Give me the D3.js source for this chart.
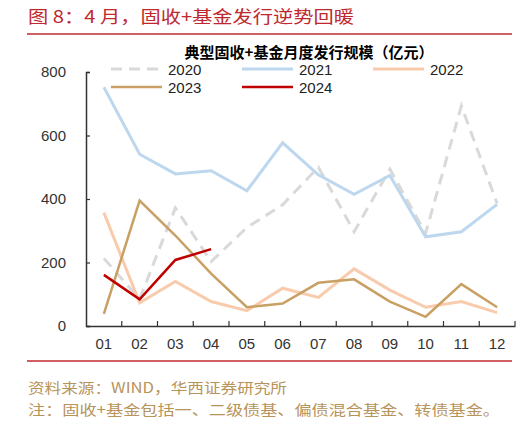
<!DOCTYPE html>
<html><head><meta charset="utf-8">
<script src="https://cdn.jsdelivr.net/npm/d3@7"></script>
<style>html,body{margin:0;padding:0;background:#fff;}svg{display:block;}</style>
</head><body>
<svg id="c" width="532" height="431"></svg>
<script>
const months = ["01","02","03","04","05","06","07","08","09","10","11","12"];
const yTicks = [0,200,400,600,800];
const s2020 = [213,85,372,203,310,382,500,297,494,292,693,386];
const s2021 = [752,541,479,489,426,577,476,415,474,281,297,383];
const s2022 = [357,73,140,77,48,119,90,180,113,59,77,42];
const s2023 = [38,395,285,165,59,71,136,147,77,29,132,59];
const s2024 = [161,84,208,242];
const seriesNames = ["2020","2021","2022","2023","2024"];

const series = [
  {name:"2020", values:s2020, color:"#D9D9D9", width:3, dash:"11,7"},
  {name:"2021", values:s2021, color:"#BDD7EE", width:3, dash:null},
  {name:"2022", values:s2022, color:"#F8CBAD", width:3, dash:null},
  {name:"2023", values:s2023, color:"#C9A063", width:2.5, dash:null},
  {name:"2024", values:s2024, color:"#C00000", width:2.5, dash:null}
];

const svg = d3.select("#c");
const cjk = "'Noto Sans CJK SC','Noto Sans',sans-serif";
const latin = "Arial,'Liberation Sans',sans-serif";

// header
svg.append("text").attr("x",28).attr("y",23).attr("fill","#C0282E")
  .attr("font-family",cjk).attr("font-size",17)
  .attr("textLength",326).attr("lengthAdjust","spacingAndGlyphs")
  .text("图 8：4 月，固收+基金发行逆势回暖");
svg.append("line").attr("x1",27).attr("x2",512).attr("y1",34).attr("y2",34)
  .attr("stroke","#C0282E").attr("stroke-width",1.5);

// chart title
svg.append("text").attr("x",309).attr("y",58).attr("text-anchor","middle")
  .attr("font-family",cjk).attr("font-weight","bold").attr("font-size",15).attr("fill","#000")
  .text("典型固收+基金月度发行规模（亿元）");

const x = d3.scaleBand().domain(months).range([86,515]);
const y = d3.scaleLinear().domain([0,800]).range([326,72]);

// axes
const gx = svg.append("g").attr("transform","translate(0,326)")
  .call(d3.axisBottom(x).tickSize(0).tickPadding(12));
gx.select(".domain").attr("stroke","#333").attr("stroke-width",1.5);
gx.selectAll("text").attr("font-family",latin).attr("font-size",15).attr("fill","#333");
// band boundary ticks pointing up
gx.selectAll(".bt").data(months.slice(1).concat(["end"])).enter().append("line")
  .attr("x1",(d,i)=> x(months[i]) + x.bandwidth())
  .attr("x2",(d,i)=> x(months[i]) + x.bandwidth())
  .attr("y1",0).attr("y2",-5).attr("stroke","#333").attr("stroke-width",1.2);

const gy = svg.append("g").attr("transform","translate(86,0)")
  .call(d3.axisLeft(y).tickValues(yTicks).tickSize(-4).tickPadding(20));
gy.select(".domain").attr("stroke","#333").attr("stroke-width",1.5);
gy.selectAll(".tick line").attr("stroke","#333").attr("stroke-width",1.2);
gy.selectAll("text").attr("font-family",latin).attr("font-size",15).attr("fill","#333");

// lines
const line = d3.line().x((d,i)=> x(months[i]) + x.bandwidth()/2).y(d=> y(d));
series.forEach(s=>{
  svg.append("path").datum(s.values).attr("d",line).attr("fill","none")
    .attr("stroke",s.color).attr("stroke-width",s.width)
    .attr("stroke-dasharray",s.dash).attr("stroke-linejoin","miter");
});

// legend
const legPos = [[111,69],[242,69],[373,69],[111,87],[242,87]];
series.forEach((s,i)=>{
  const [lx,ly] = legPos[i];
  svg.append("line").attr("x1",lx).attr("x2",lx+51).attr("y1",ly).attr("y2",ly)
    .attr("stroke",s.color).attr("stroke-width",s.width).attr("stroke-dasharray",s.dash);
  svg.append("text").attr("x",lx+57).attr("y",ly+5.5).attr("font-family",latin)
    .attr("font-size",15).attr("fill","#222").text(seriesNames[i]);
});

// footer
svg.append("line").attr("x1",27).attr("x2",512).attr("y1",361).attr("y2",361)
  .attr("stroke","#C0282E").attr("stroke-width",1.5);
svg.append("text").attr("x",28).attr("y",393).attr("fill","#B8935A")
  .attr("font-family",cjk).attr("font-size",14)
  .attr("textLength",259).attr("lengthAdjust","spacingAndGlyphs")
  .text("资料来源：WIND，华西证券研究所");
svg.append("text").attr("x",28).attr("y",415).attr("fill","#B8935A")
  .attr("font-family",cjk).attr("font-size",14)
  .attr("textLength",472).attr("lengthAdjust","spacingAndGlyphs")
  .text("注：固收+基金包括一、二级债基、偏债混合基金、转债基金。");
</script>
</body></html>
